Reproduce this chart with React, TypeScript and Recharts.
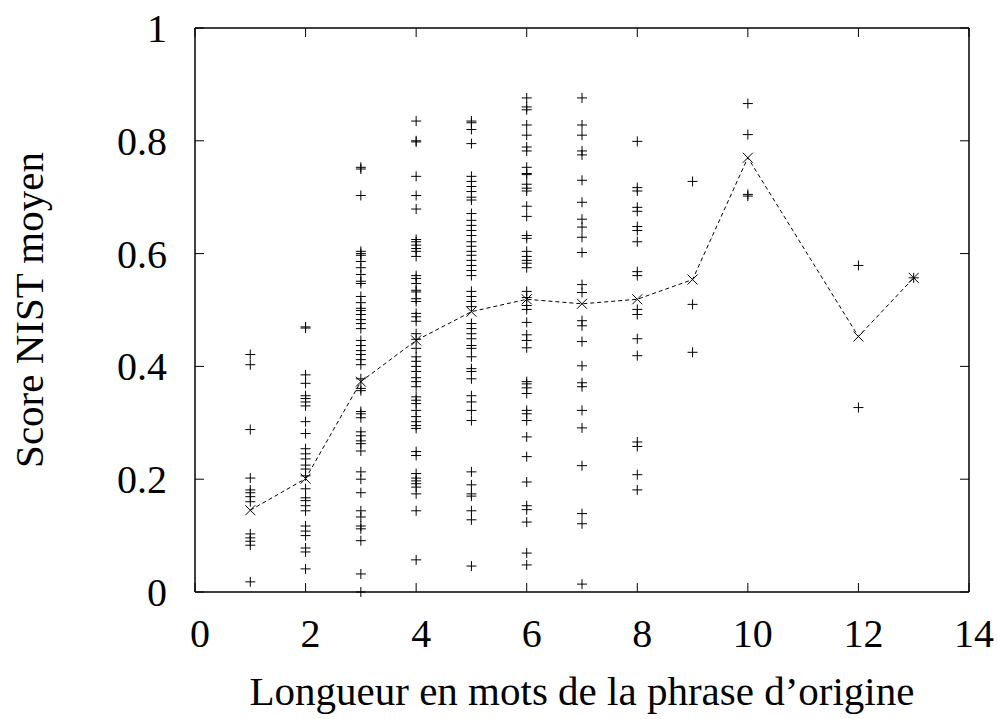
import React from 'react';
import { ScatterChart, Scatter, XAxis, YAxis } from 'recharts';

// scores per sentence length
const lengths = [1, 2, 3, 4, 5, 6, 7, 8, 9, 10, 12, 13];

const s1 = [0.421, 0.403, 0.288, 0.202, 0.181, 0.176, 0.169, 0.16, 0.103, 0.096, 0.09, 0.083, 0.018];
const s2 = [0.47, 0.468, 0.385, 0.37, 0.348, 0.343, 0.337, 0.33, 0.302, 0.281, 0.254, 0.245, 0.236, 0.225, 0.218,
  0.206, 0.183, 0.167, 0.162, 0.153, 0.144, 0.117, 0.108, 0.1, 0.078, 0.071, 0.041];
const s3 = [0.753, 0.75, 0.703, 0.604, 0.6, 0.597, 0.586, 0.575, 0.563, 0.551, 0.547, 0.524, 0.513, 0.503, 0.499,
  0.492, 0.483, 0.476, 0.467, 0.446, 0.437, 0.428, 0.421, 0.412, 0.403, 0.378, 0.361, 0.357, 0.32, 0.316, 0.309,
  0.284, 0.277, 0.268, 0.263, 0.25, 0.213, 0.2, 0.176, 0.144, 0.133, 0.117, 0.112, 0.091, 0.032, 0.0];
const s4 = [0.835, 0.8, 0.798, 0.737, 0.703, 0.679, 0.625, 0.621, 0.615, 0.609, 0.604, 0.595, 0.561, 0.556, 0.547,
  0.535, 0.532, 0.52, 0.515, 0.494, 0.488, 0.48, 0.458, 0.448, 0.432, 0.417, 0.409, 0.4, 0.391, 0.38, 0.373, 0.364,
  0.346, 0.34, 0.334, 0.322, 0.311, 0.302, 0.295, 0.29, 0.249, 0.242, 0.21, 0.202, 0.197, 0.192, 0.186, 0.174,
  0.144, 0.057];
const s5 = [0.835, 0.832, 0.82, 0.795, 0.737, 0.728, 0.719, 0.71, 0.7, 0.695, 0.671, 0.659, 0.65, 0.641, 0.632,
  0.621, 0.613, 0.604, 0.597, 0.588, 0.579, 0.57, 0.561, 0.533, 0.524, 0.515, 0.506, 0.476, 0.467, 0.458, 0.449,
  0.437, 0.432, 0.417, 0.396, 0.391, 0.378, 0.348, 0.337, 0.322, 0.304, 0.213, 0.19, 0.174, 0.17, 0.144, 0.128,
  0.046];
const s6 = [0.876, 0.86, 0.855, 0.828, 0.81, 0.789, 0.782, 0.753, 0.742, 0.74, 0.723, 0.716, 0.711, 0.684, 0.666,
  0.632, 0.627, 0.604, 0.595, 0.588, 0.583, 0.575, 0.533, 0.522, 0.508, 0.501, 0.478, 0.456, 0.446, 0.433, 0.373,
  0.369, 0.362, 0.352, 0.322, 0.316, 0.304, 0.275, 0.24, 0.195, 0.153, 0.146, 0.124, 0.069, 0.048];
const s7 = [0.876, 0.828, 0.81, 0.782, 0.775, 0.73, 0.691, 0.661, 0.647, 0.629, 0.602, 0.545, 0.531, 0.481, 0.472,
  0.444, 0.401, 0.371, 0.364, 0.322, 0.291, 0.224, 0.139, 0.121, 0.014];
const s8 = [0.799, 0.717, 0.711, 0.682, 0.675, 0.648, 0.641, 0.621, 0.568, 0.561, 0.501, 0.492, 0.449, 0.419,
  0.266, 0.258, 0.208, 0.181];
const s9 = [0.728, 0.51, 0.425];
const s10 = [0.866, 0.811, 0.705, 0.702];
const s12 = [0.579, 0.327];
const s13 = [0.557];

const scores = [s1, s2, s3, s4, s5, s6, s7, s8, s9, s10, s12, s13];

// mean score per length (dashed line with x marks)
const meanScores = [0.145, 0.201, 0.373, 0.446, 0.497, 0.519, 0.511, 0.519, 0.554, 0.77, 0.453, 0.557];

const xTicks = [0, 2, 4, 6, 8, 10, 12, 14];
const yTicks = [0, 0.2, 0.4, 0.6, 0.8, 1];

const points = lengths.flatMap((len, i) => scores[i].map((score) => ({ len, score })));
const means = lengths.map((len, i) => ({ len, score: meanScores[i] }));

const FONT = '"Liberation Serif", "Times New Roman", serif';

const Plus = (props: any) => {
  const { cx, cy } = props;
  return <path d={`M${cx - 5},${cy}h10M${cx},${cy - 5}v10`} stroke="#000" strokeWidth={1} fill="none" />;
};

const Cross = (props: any) => {
  const { cx, cy } = props;
  return (
    <path d={`M${cx - 5},${cy - 5}L${cx + 5},${cy + 5}M${cx - 5},${cy + 5}L${cx + 5},${cy - 5}`}
      stroke="#000" strokeWidth={1} fill="none" />
  );
};

const Nothing = () => <g />;

const BottomTick = ({ x, y, payload }: any) => (
  <g>
    <line x1={x} y1={y} x2={x} y2={y - 9} stroke="#000" />
    <text x={x + 5} y={y + 55} textAnchor="middle" fontSize={40} fontFamily={FONT} fill="#000">
      {payload.value}
    </text>
  </g>
);

const TopTick = ({ x, y }: any) => <line x1={x} y1={y} x2={x} y2={y + 9} stroke="#000" />;

const LeftTick = ({ x, y, payload }: any) => (
  <g>
    <line x1={x} y1={y} x2={x + 9} y2={y} stroke="#000" />
    <text x={x - 28} y={y + 14} textAnchor="end" fontSize={40} fontFamily={FONT} fill="#000">
      {String(payload.value)}
    </text>
  </g>
);

const RightTick = ({ x, y }: any) => <line x1={x} y1={y} x2={x - 9} y2={y} stroke="#000" />;

export default function App() {
  return (
    <div style={{ position: 'absolute', left: 0, top: 0, background: '#fff' }}>
      <ScatterChart width={998} height={719} margin={{ top: 27, right: 28, bottom: 0, left: 0 }}>
        <XAxis
          type="number"
          dataKey="len"
          domain={[0, 14]}
          ticks={xTicks}
          height={127}
          tickSize={0}
          tickMargin={0}
          tick={<BottomTick />}
          axisLine={{ stroke: '#000', strokeWidth: 1.5 }}
          label={{
            content: ({ viewBox }: any) => (
              <text x={viewBox.x + viewBox.width / 2} y={viewBox.y + 113} textAnchor="middle"
                fontSize={41} fontFamily={FONT} fill="#000">
                Longueur en mots de la phrase d’origine
              </text>
            ),
          }}
        />
        <XAxis
          xAxisId="top"
          orientation="top"
          type="number"
          dataKey="len"
          domain={[0, 14]}
          ticks={xTicks}
          height={1}
          tickSize={0}
          tickMargin={0}
          tick={<TopTick />}
          axisLine={{ stroke: '#000', strokeWidth: 1.5 }}
        />
        <YAxis
          type="number"
          dataKey="score"
          domain={[0, 1]}
          ticks={yTicks}
          width={195}
          tickSize={0}
          tickMargin={0}
          tick={<LeftTick />}
          axisLine={{ stroke: '#000', strokeWidth: 1.5 }}
          label={{
            content: ({ viewBox }: any) => {
              const cx = viewBox.x + 43;
              const cy = viewBox.y + viewBox.height / 2;
              return (
                <text x={cx} y={cy} transform={`rotate(-90 ${cx} ${cy})`} textAnchor="middle"
                  fontSize={41} fontFamily={FONT} fill="#000">
                  Score NIST moyen
                </text>
              );
            },
          }}
        />
        <YAxis
          yAxisId="right"
          orientation="right"
          type="number"
          dataKey="score"
          domain={[0, 1]}
          ticks={yTicks}
          width={1}
          tickSize={0}
          tickMargin={0}
          tick={<RightTick />}
          axisLine={{ stroke: '#000', strokeWidth: 1.5 }}
        />
        <Scatter data={points} shape={<Plus />} isAnimationActive={false} />
        <Scatter
          data={means}
          shape={<Cross />}
          line={{ stroke: '#000', strokeWidth: 1, strokeDasharray: '4 3' }}
          lineType="joint"
          isAnimationActive={false}
        />
        {/* invisible series so the mirrored frame axes get a domain */}
        <Scatter data={means} xAxisId="top" yAxisId="right" shape={<Nothing />} isAnimationActive={false} />
      </ScatterChart>
    </div>
  );
}
